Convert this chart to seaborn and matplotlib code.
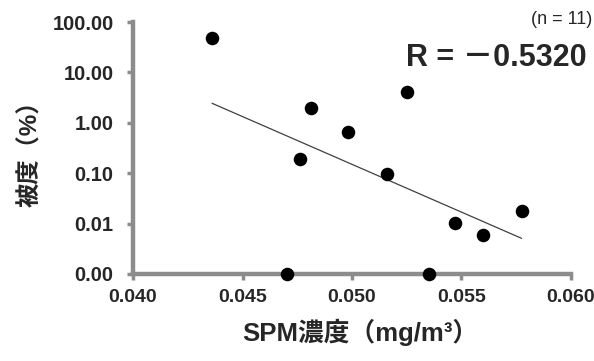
import numpy as np
import pandas as pd
import seaborn as sns
import matplotlib
matplotlib.use("Agg")
import matplotlib.pyplot as plt
from matplotlib.ticker import FixedLocator, FixedFormatter, NullLocator

# ---- data ----
spm = [0.04361, 0.04763, 0.04811, 0.0498, 0.0516, 0.0525, 0.05473, 0.0560, 0.05775, 0.04705, 0.05352]
cover = [48.0, 0.19, 1.94, 0.65, 0.098, 4.1, 0.0102, 0.0059, 0.018, 0.001, 0.001]
trend_x = [0.04361, 0.05775]
trend_y = [2.44, 0.0051]
x_ticks = [0.040, 0.045, 0.050, 0.055, 0.060]
x_ticklabels = ["0.040", "0.045", "0.050", "0.055", "0.060"]
y_ticks = [0.001, 0.01, 0.1, 1, 10, 100]
y_ticklabels = ["0.00", "0.01", "0.10", "1.00", "10.00", "100.00"]
n_label = "(n = 11)"
r_label = "R = －0.5320"
x_label = "SPM濃度（mg/m³）"
y_label = "被度（%）"

sns.set_style("white")
plt.rcParams['font.family'] = ['Liberation Sans', 'Noto Sans CJK JP', 'DejaVu Sans']

df = pd.DataFrame({"spm": spm, "cover": cover})
tr = pd.DataFrame({"x": trend_x, "y": trend_y})

fig = plt.figure(figsize=(5.94, 3.61), dpi=100)
ax = fig.add_axes([0.224, 0.241, 0.737, 0.698])

sns.lineplot(data=tr, x="x", y="y", ax=ax, color="#404040", linewidth=0.9, zorder=2)
sns.scatterplot(data=df, x="spm", y="cover", ax=ax, color="black", s=95,
                edgecolor="black", linewidth=0, zorder=3, clip_on=False)

ax.set_yscale("log")
ax.set_xlim(0.040, 0.060)
ax.set_ylim(0.001, 100)
ax.xaxis.set_major_locator(FixedLocator(x_ticks))
ax.xaxis.set_major_formatter(FixedFormatter(x_ticklabels))
ax.yaxis.set_major_locator(FixedLocator(y_ticks))
ax.yaxis.set_major_formatter(FixedFormatter(y_ticklabels))
ax.yaxis.set_minor_locator(NullLocator())
ax.xaxis.set_minor_locator(NullLocator())

for s in ["top", "right"]:
    ax.spines[s].set_visible(False)
for s in ["left", "bottom"]:
    ax.spines[s].set_color("#8c8c8c")
    ax.spines[s].set_linewidth(3.2)
    ax.spines[s].set_zorder(1)
ax.tick_params(axis="both", direction="out", length=4, width=2.5, color="#8c8c8c",
               bottom=True, left=True)
ax.tick_params(axis="x", pad=7, labelsize=14)
ax.tick_params(axis="y", pad=10, labelsize=14.5)
for lab in ax.get_xticklabels() + ax.get_yticklabels():
    lab.set_fontweight("bold")

ax.set_xlabel(x_label, fontsize=18.5, fontweight="bold")
ax.xaxis.set_label_coords(0.52, -0.23)
ax.xaxis.label.set_va("center")
ax.set_ylabel(y_label, fontsize=17.5, fontweight="bold")
ax.yaxis.set_label_coords(-0.235, 0.50)
ax.yaxis.label.set_va("center")

fig.text(0.997, 0.945, n_label, ha="right", va="center", fontsize=13)
fig.text(0.988, 0.84, r_label, ha="right", va="center", fontsize=22, fontweight="bold",
         family=['Liberation Sans', 'Noto Sans CJK JP'])

fig.savefig("out.png", dpi=100)
